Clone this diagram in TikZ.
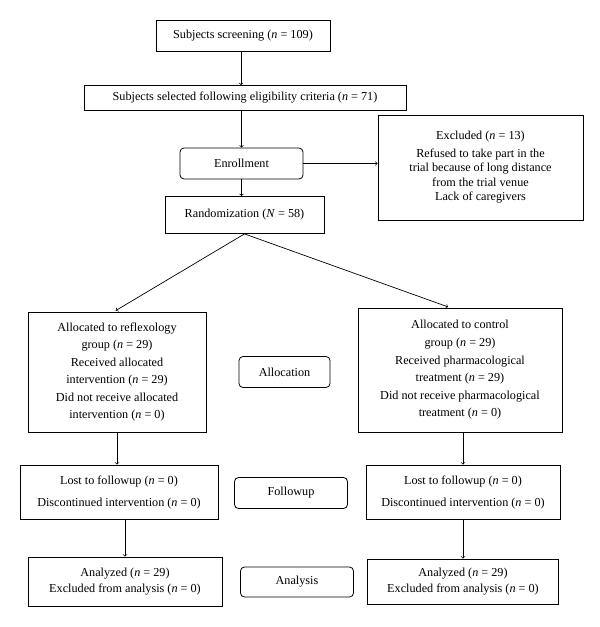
\documentclass[tikz,border=0pt]{standalone}
\usepackage{fontspec}
\setmainfont{Liberation Serif}
\usepackage{tikz}
\usetikzlibrary{arrows,positioning}
\tikzset{font=\fontsize{12.2}{14.5}\selectfont}
\tikzset{box/.style={draw, line width=0.8pt, inner sep=2pt, align=center}}
\tikzset{stage/.style={box, rounded corners=4pt}}
\tikzset{arr/.style={->, >=to, line width=0.7pt}}

\begin{document}
\begin{tikzpicture}[x=1pt,y=-1pt]
  \useasboundingbox (0,0) rectangle (600,627);

  \node[box, minimum width=174pt, minimum height=31pt] (screen) at (243,36)
       {Subjects screening (\textit{n} = 109)};
  \node[box, minimum width=322pt, minimum height=25pt] (elig) at (245,98)
       {Subjects selected following eligibility criteria (\textit{n} = 71)};
  \node[stage, minimum width=123pt, minimum height=31pt] (enroll) at (241.5,163.5)
       {Enrollment};
  \node[box, minimum width=205pt, minimum height=105pt] (excl) at (480.5,167.5)
       {Excluded (\textit{n} = 13)\\[3pt]
        Refused to take part in the\\
        trial because of long distance\\
        from the trial venue\\
        Lack of caregivers};
  \node[box, minimum width=159pt, minimum height=37pt] (rand) at (244.5,215)
       {Randomization (\textit{N} = 58)};

  % allocation
  \node[box, minimum width=178pt, minimum height=120pt,
        font=\fontsize{12.2}{17.4}\selectfont] (allocL) at (117,372)
       {Allocated to reflexology\\
        group (\textit{n} = 29)\\
        Received allocated\\
        intervention (\textit{n} = 29)\\
        Did not receive allocated\\
        intervention (\textit{n} = 0)};
  \node[box, minimum width=204pt, minimum height=124pt,
        font=\fontsize{12.2}{17.6}\selectfont] (allocR) at (460,370)
       {Allocated to control\\
        group (\textit{n} = 29)\\
        Received pharmacological\\
        treatment (\textit{n} = 29)\\
        Did not receive pharmacological\\
        treatment (\textit{n} = 0)};
  \node[stage, minimum width=91pt, minimum height=31pt] (allocation) at (284.5,372)
       {Allocation};

  % followup
  \node[box, minimum width=198pt, minimum height=54pt,
        font=\fontsize{12.2}{22}\selectfont] (lostL) at (119,492)
       {Lost to followup (\textit{n} = 0)\\
        Discontinued intervention (\textit{n} = 0)};
  \node[box, minimum width=194pt, minimum height=54pt,
        font=\fontsize{12.2}{22}\selectfont] (lostR) at (463,492)
       {Lost to followup (\textit{n} = 0)\\
        Discontinued intervention (\textit{n} = 0)};
  \node[stage, minimum width=113pt, minimum height=31pt] (followup) at (291,493)
       {Followup};

  % analysis
  \node[box, minimum width=194pt, minimum height=49pt,
        font=\fontsize{12.2}{15.5}\selectfont] (anaL) at (125,581.5)
       {Analyzed (\textit{n} = 29)\\
        Excluded from analysis (\textit{n} = 0)};
  \node[box, minimum width=191pt, minimum height=45pt,
        font=\fontsize{12.2}{15.5}\selectfont] (anaR) at (463,581.5)
       {Analyzed (\textit{n} = 29)\\
        Excluded from analysis (\textit{n} = 0)};
  \node[stage, minimum width=113pt, minimum height=30pt] (analysis) at (297,582)
       {Analysis};

  \draw[arr] ([xshift=-2pt]screen.south) -- ([xshift=-2pt]screen.south |- elig.north);
  \draw[arr] (enroll.north |- elig.south) -- (enroll.north);
  \draw[arr] (enroll.south) -- (enroll.south |- rand.north);
  \draw[arr] (enroll.east) -- (enroll.east -| excl.west);
  \draw[arr, shorten >=2pt] (rand.south) -- ([xshift=-3pt]allocL.north);
  \draw[arr, shorten >=2pt] (rand.south) -- ([xshift=-10pt]allocR.north);
  \draw[arr] (allocL.south) -- (allocL.south |- lostL.north);
  \draw[arr] (allocR.south -| lostR.north) -- (lostR.north);
  \draw[arr] (anaL.north |- lostL.south) -- (anaL.north);
  \draw[arr] (lostR.south) -- (lostR.south |- anaR.north);
\end{tikzpicture}
\end{document}
